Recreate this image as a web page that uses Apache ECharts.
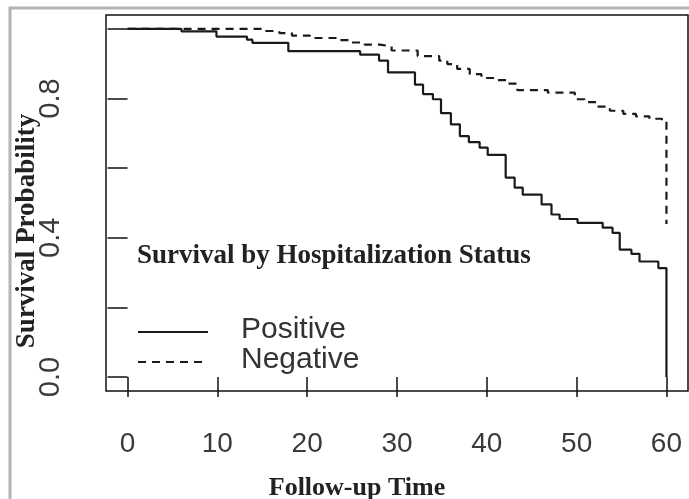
<!DOCTYPE html>
<html>
<head>
<meta charset="utf-8">
<script src="https://cdn.jsdelivr.net/npm/echarts@6/dist/echarts.min.js"></script>
<style>html,body{margin:0;padding:0;background:#fff}#c{width:689px;height:499px}</style>
</head>
<body>
<div id="c"></div>
<script>
// ---- data ----
const posTime = [0, 6.0, 9.9, 13.3, 13.9, 17.9, 25.9, 28.0, 29.0, 32.0, 32.9, 34.0, 34.9, 36.0, 37.0, 38.0, 39.2, 40.1, 42.1, 43.1, 44.0, 46.1, 47.2, 48.1, 50.1, 52.9, 54.0, 54.8, 56.1, 57.0, 59.1, 60];
const posSurv = [1.0, 0.993, 0.978, 0.969, 0.960, 0.936, 0.926, 0.909, 0.875, 0.840, 0.813, 0.798, 0.758, 0.726, 0.692, 0.675, 0.659, 0.638, 0.573, 0.544, 0.524, 0.496, 0.467, 0.454, 0.443, 0.429, 0.414, 0.366, 0.354, 0.332, 0.313, 0.0];
const negTime = [0, 15.4, 16.9, 18.3, 20.3, 23.6, 24.9, 26.4, 28.1, 29.4, 32.3, 34.7, 35.6, 36.7, 38.1, 39.4, 41.0, 42.3, 43.4, 46.8, 49.8, 50.9, 52.3, 53.7, 55.2, 56.6, 58.1, 59.5, 60];
const negSurv = [1.0, 0.994, 0.988, 0.981, 0.974, 0.968, 0.961, 0.955, 0.950, 0.938, 0.922, 0.909, 0.899, 0.885, 0.870, 0.859, 0.853, 0.843, 0.824, 0.817, 0.798, 0.790, 0.777, 0.765, 0.756, 0.749, 0.742, 0.735, 0.44];
const xTicks = [0, 10, 20, 30, 40, 50, 60];
const yTicks = [0, 0.2, 0.4, 0.6, 0.8, 1.0];
const yLabels = [0, 0.4, 0.8];
const seriesNames = ['Positive', 'Negative'];
const legendTitle = 'Survival by Hospitalization Status';
const xTitle = 'Follow-up Time';
const yTitle = 'Survival Probability';

const zip = (a, b) => a.map((v, i) => [v, b[i]]);
const serif = '"Liberation Serif", "Times New Roman", serif';
const sans = '"Liberation Sans", Arial, sans-serif';

const chart = echarts.init(document.getElementById('c'), null, {renderer: 'canvas'});
chart.setOption({
  backgroundColor: '#fff',
  animation: false,
  grid: {left: 106, right: 1, top: 15, bottom: 108, show: true, borderColor: '#111', borderWidth: 1.5, backgroundColor: 'transparent'},
  xAxis: {
    type: 'value', min: -2.4, max: 62.4,
    splitLine: {show: false},
    axisLine: {show: false},
    axisTick: {show: true, inside: false, length: 20, customValues: xTicks, lineStyle: {color: '#111', width: 1.5}},
    axisLabel: {customValues: xTicks, margin: 39, fontFamily: sans, fontSize: 28, color: '#3a3a3a'}
  },
  yAxis: {
    type: 'value', min: -0.04, max: 1.04,
    splitLine: {show: false},
    axisLine: {show: false},
    axisTick: {show: true, inside: false, length: 20, customValues: yTicks, lineStyle: {color: '#111', width: 1.5}},
    axisLabel: {customValues: yLabels, rotate: 90, margin: 41, fontFamily: sans, fontSize: 29, color: '#3a3a3a',
      formatter: v => v.toFixed(1)}
  },
  series: [
    {name: seriesNames[0], type: 'line', step: 'end', data: zip(posTime, posSurv), symbol: 'none',
      lineStyle: {color: '#1a1a1a', width: 2.2}, z: 3},
    {name: seriesNames[1], type: 'line', step: 'end', data: zip(negTime, negSurv), symbol: 'none',
      lineStyle: {color: '#1a1a1a', width: 2.2, type: [8, 6]}, z: 2}
  ],
  graphic: [
    {type: 'rect', shape: {x: 10, y: 8, width: 720, height: 540}, style: {fill: 'none', stroke: '#b4b4b4', lineWidth: 3}, silent: true},
    {type: 'text', left: 137, top: 243, style: {text: legendTitle, font: 'bold 27px ' + serif, fill: '#222'}},
    {type: 'line', shape: {x1: 138, y1: 332, x2: 208, y2: 332}, style: {stroke: '#1a1a1a', lineWidth: 2}},
    {type: 'line', shape: {x1: 138, y1: 362, x2: 208, y2: 362}, style: {stroke: '#1a1a1a', lineWidth: 2, lineDash: [8, 6]}},
    {type: 'text', left: 241, top: 315, style: {text: seriesNames[0], font: '30px ' + sans, fill: '#333'}},
    {type: 'text', left: 241, top: 345, style: {text: seriesNames[1], font: '30px ' + sans, fill: '#333'}},
    {type: 'text', x: 357, y: 488, style: {text: xTitle, font: 'bold 26px ' + serif, fill: '#222', align: 'center', verticalAlign: 'middle'}},
    {type: 'text', x: 27, y: 231, rotation: Math.PI / 2, style: {text: yTitle, font: 'bold 27px ' + serif, fill: '#222', align: 'center', verticalAlign: 'middle'}}
  ]
});
</script>
</body>
</html>
